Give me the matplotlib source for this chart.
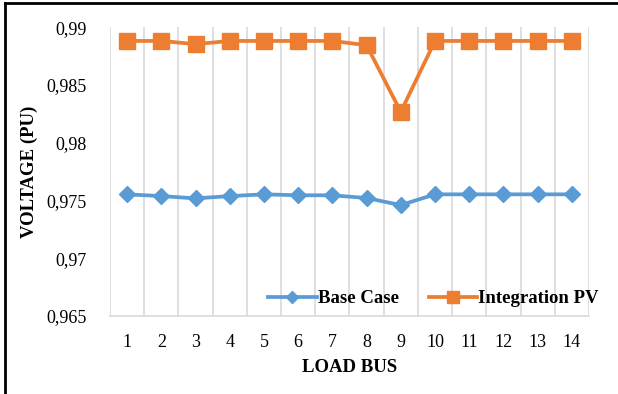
import numpy as np
import matplotlib
matplotlib.use("Agg")
import matplotlib.pyplot as plt
from matplotlib.lines import Line2D

plt.rcParams['font.family'] = ['Liberation Serif', 'DejaVu Serif']

buses = [1, 2, 3, 4, 5, 6, 7, 8, 9, 10, 11, 12, 13, 14]
base_case = [0.97553, 0.97538, 0.97518, 0.97538, 0.97553, 0.97545, 0.97545, 0.97521,
             0.97460, 0.97553, 0.97553, 0.97553, 0.97553, 0.97553]
integration_pv = [0.98881, 0.98881, 0.98853, 0.98881, 0.98881, 0.98881, 0.98881, 0.98844,
                  0.98267, 0.98881, 0.98881, 0.98881, 0.98881, 0.98881]
yticks = [0.965, 0.97, 0.975, 0.98, 0.985, 0.99]
ytick_labels = ["0,965", "0,97", "0,975", "0,98", "0,985", "0,99"]

blue = "#5B9BD5"
orange = "#ED7D31"

fig = plt.figure(figsize=(6.18, 3.94), dpi=100)
ax = fig.add_axes([0.178, 0.198, 0.775, 0.733])

x = np.arange(len(buses))
ax.plot(x, base_case, color=blue, lw=2.7, marker="D", markersize=8.5, label="Base Case")
ax.plot(x, integration_pv, color=orange, lw=2.7, marker="s", markersize=11, label="Integration PV")

ax.set_xlim(-0.5, len(buses) - 0.5)
ax.set_ylim(0.965, 0.99)
ax.set_xticks(x)
ax.set_xticklabels([str(b) for b in buses])
ax.set_xticks(np.arange(len(buses) + 1) - 0.5, minor=True)
ax.grid(True, which="minor", axis="x", color="#D9D9D9", lw=1.2)
ax.set_yticks(yticks)
ax.set_yticklabels(ytick_labels)
ax.tick_params(axis="both", which="both", length=0, labelsize=13)
ax.tick_params(axis="y", pad=17)
ax.tick_params(axis="x", pad=13)

for side in ["top", "right", "left"]:
    ax.spines[side].set_visible(False)
ax.spines["bottom"].set_color("#D9D9D9")
ax.spines["bottom"].set_linewidth(1.2)

ax.set_xlabel("LOAD BUS", fontsize=13.5, fontweight="bold", labelpad=6)
ax.set_ylabel("VOLTAGE (PU)", fontsize=13.5, fontweight="bold", labelpad=6)

leg = ax.legend(loc="center right", bbox_to_anchor=(1.04, 0.06), ncol=2, frameon=False,
                prop={"weight": "bold", "size": 13.5}, handlelength=2.6, borderpad=0,
                columnspacing=1.6, handletextpad=0.05, markerscale=0.75)

# frame around the figure (only top and left edges visible in the crop)
fig.add_artist(Line2D([0.008, 0.008], [0.0, 0.992], color="black", lw=2, transform=fig.transFigure))
fig.add_artist(Line2D([0.008, 1.0], [0.992, 0.992], color="black", lw=2, transform=fig.transFigure))

fig.savefig("out.png", dpi=100)
